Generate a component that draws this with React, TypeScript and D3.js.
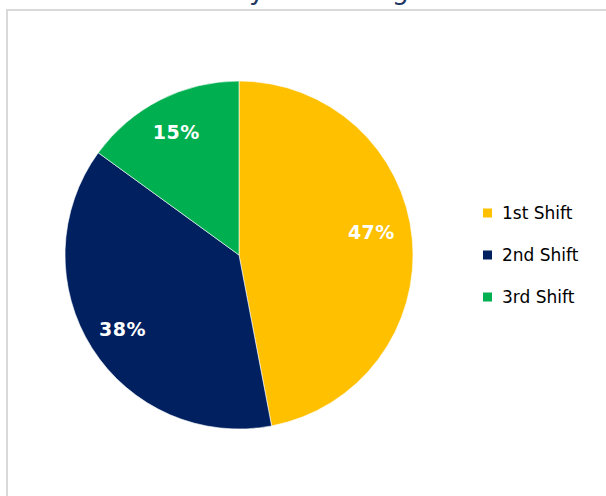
import React from "react";
import * as d3 from "d3";

const categories = ["1st Shift", "2nd Shift", "3rd Shift"];
const values = [47, 38, 15];
const colors = ["#FFC000", "#002060", "#00B050"];
const titleText = "Shift by Percentage";

export default function App() {
  const W = 606, H = 496;
  const cx = 239, cy = 255, R = 174, labelR = 138;
  const pie = d3.pie<number>().sort(null).value((d) => d)(values);
  const arc = d3.arc<d3.PieArcDatum<number>>().innerRadius(0).outerRadius(R);
  const labelArc = d3.arc<d3.PieArcDatum<number>>().innerRadius(labelR).outerRadius(labelR);
  const total = d3.sum(values);
  const legendY = d3.scalePoint<string>().domain(categories).range([213, 297]);
  const nudge = [[-5, -10], [0, 0], [0, 0]];

  return (
    <svg width={W} height={H} style={{ position: "absolute", left: 0, top: 0 }}>
      <rect x={0} y={0} width={W} height={H} fill="#fff" />
      <text x={162} y={-1} fontFamily="DejaVu Sans" fontSize={27} fill="#1F3864">{titleText}</text>
      <rect x={7} y={10} width={640} height={520} fill="none" stroke="#D9D9D9" strokeWidth={2} />
      <g transform={`translate(${cx},${cy})`}>
        {pie.map((p, i) => (
          <path key={i} d={arc(p) || ""} fill={colors[i]} stroke="#fff" strokeWidth={0.6} />
        ))}
        {pie.map((p, i) => {
          const [x, y] = labelArc.centroid(p);
          return (
            <text key={"l" + i} x={x + nudge[i][0]} y={y + nudge[i][1]} dy="0.36em" textAnchor="middle" fontFamily="DejaVu Sans" fontWeight="bold" fontSize={19} fill="#fff" letterSpacing={0.5}>
              {Math.round((values[i] / total) * 100)}%
            </text>
          );
        })}
      </g>
      {categories.map((c, i) => (
        <g key={c}>
          <rect x={483} y={(legendY(c) || 0) - 4.5} width={9} height={9} fill={colors[i]} />
          <text x={502} y={legendY(c) || 0} dy="0.36em" fontFamily="DejaVu Sans" fontSize={17} fill="#000">{c}</text>
        </g>
      ))}
    </svg>
  );
}
